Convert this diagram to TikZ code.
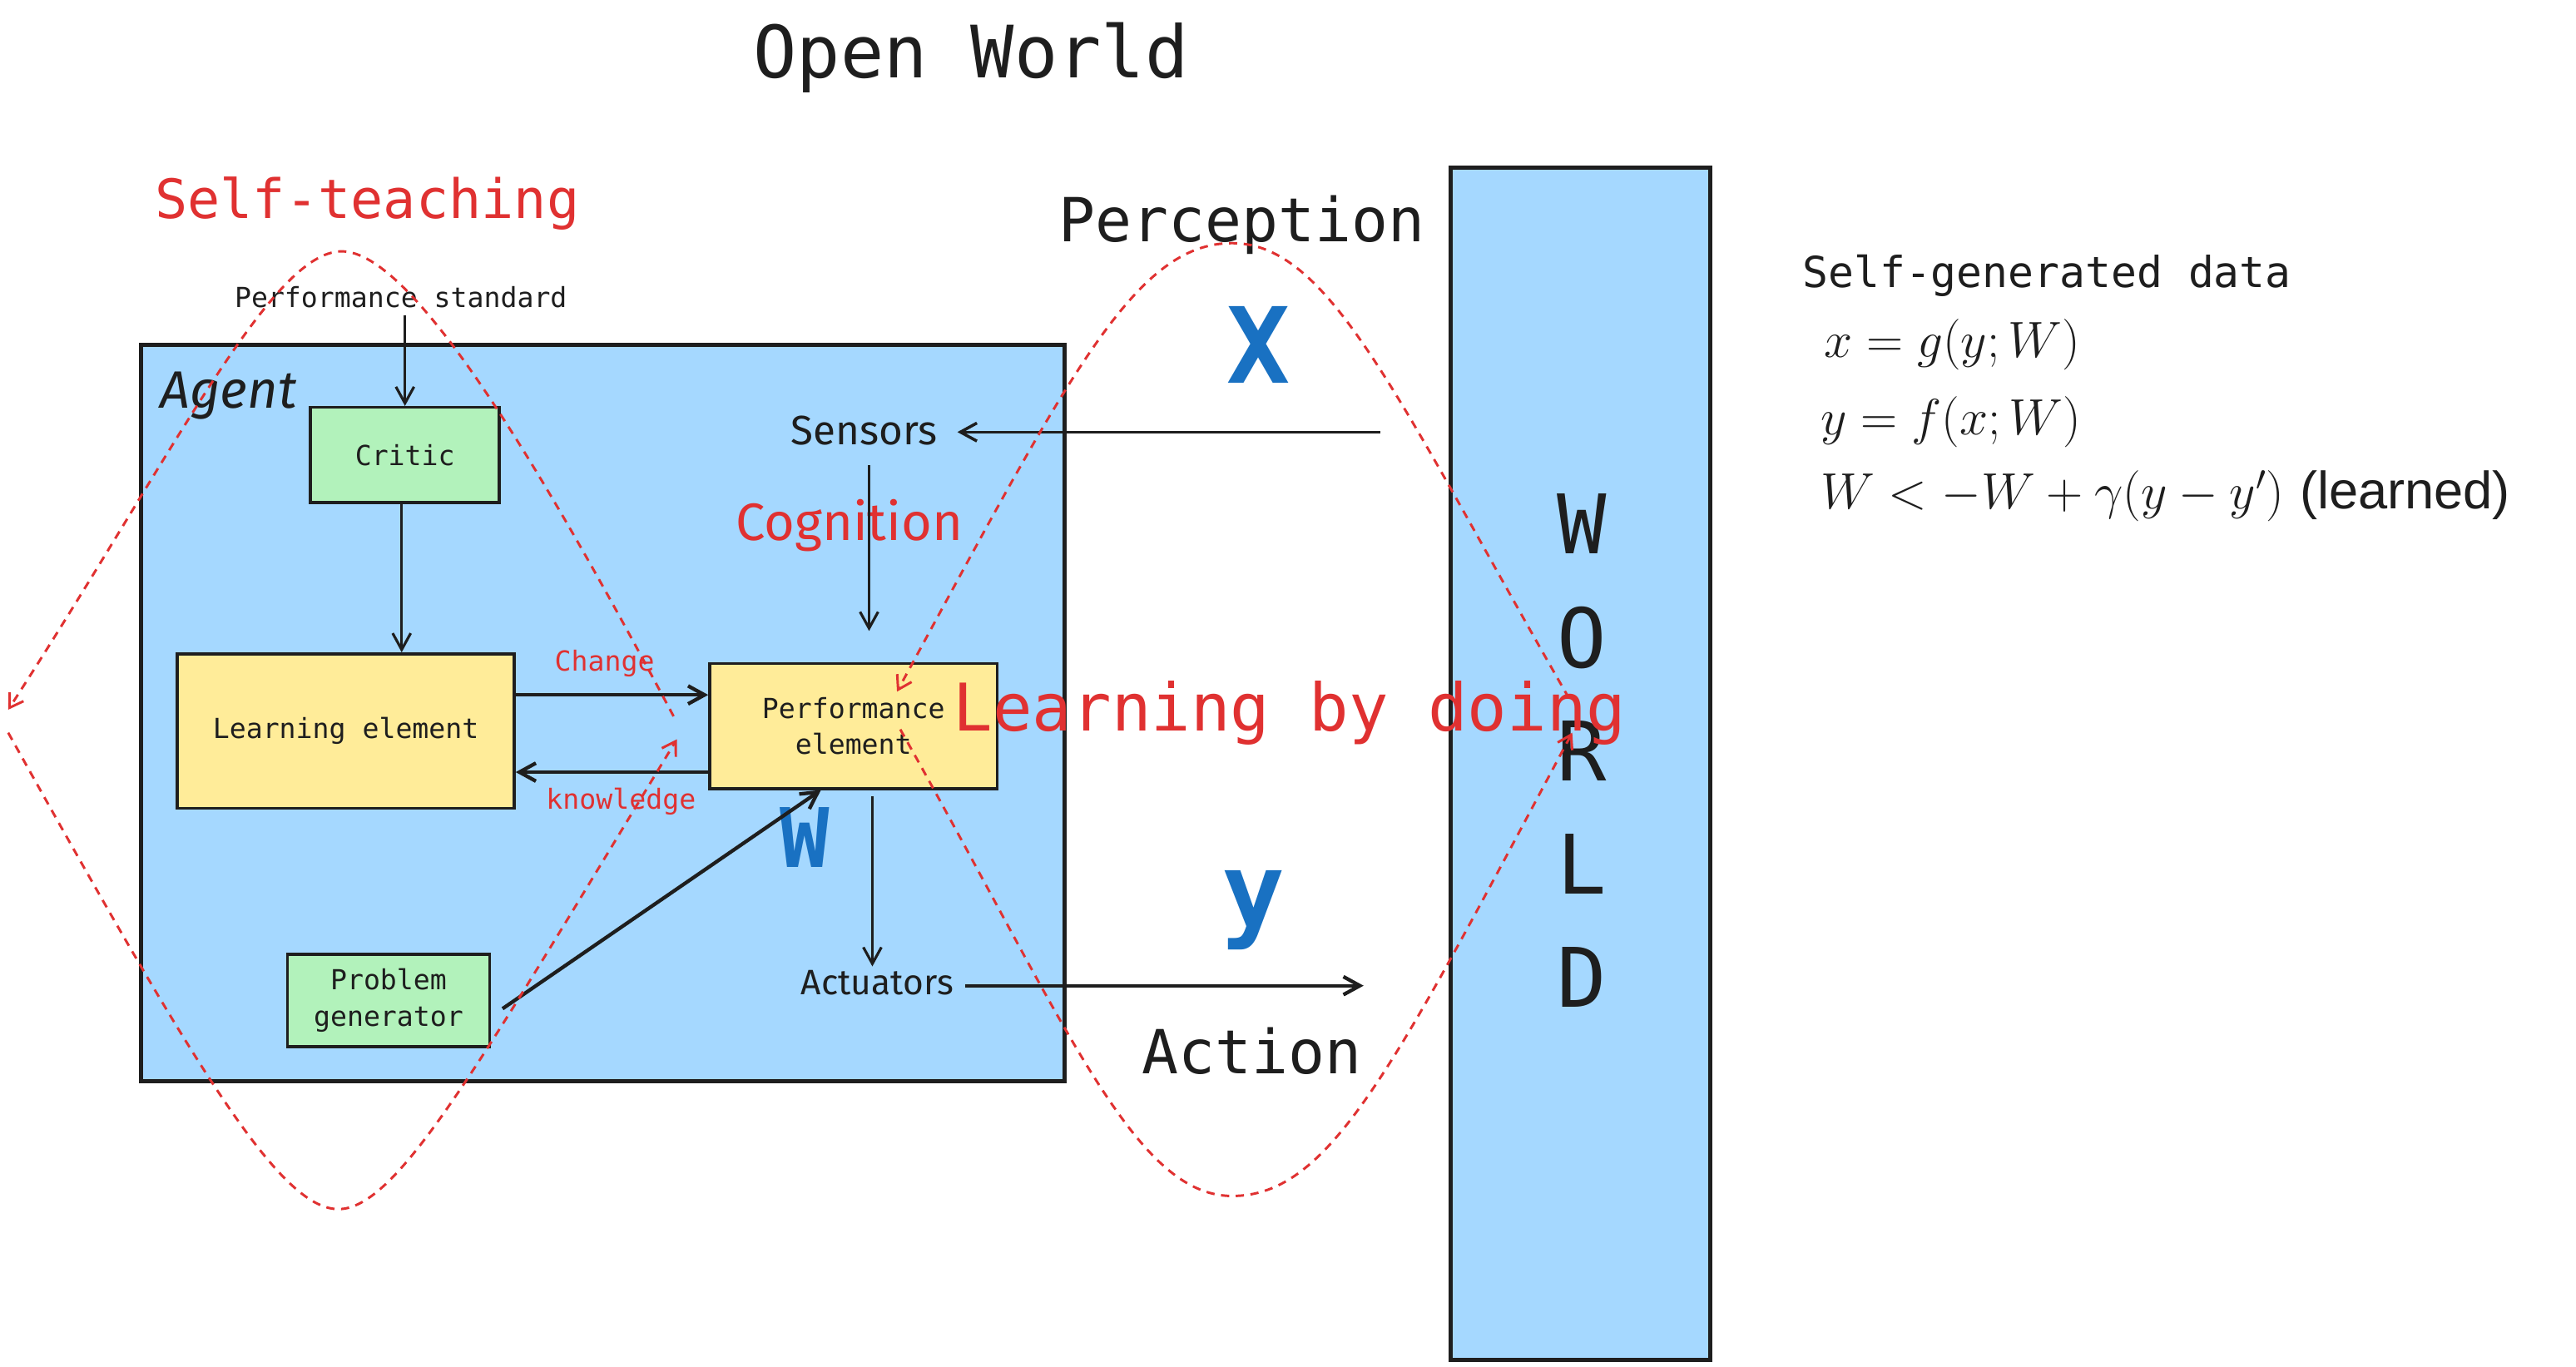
\RequirePackage{fix-cm}
\documentclass[tikz,border=0pt]{standalone}
\usepackage{fontspec}
\usetikzlibrary{arrows.meta}
\newfontfamily\monof{DejaVu Sans Mono}
\newfontfamily\handf{Fira Sans}
\newfontfamily\arialf{Liberation Sans}
\newcommand\fsz[1]{\fontsize{#1}{#1}\selectfont}
\definecolor{ink}{HTML}{1E1E1E}
\definecolor{redc}{HTML}{E03131}
\definecolor{bluec}{HTML}{1971C2}
\definecolor{skyb}{HTML}{A5D8FF}
\definecolor{greenc}{HTML}{B2F2BB}
\definecolor{yellowc}{HTML}{FFEC99}
\begin{document}
\begin{tikzpicture}[x=1pt,y=-1pt,
  box/.style={draw=ink,line width=1.8pt,inner sep=0pt},
  bigbox/.style={draw=ink,line width=2.6pt,inner sep=0pt,fill=skyb},
  arr/.style={draw=ink,line width=1.6pt,-{Straight Barb[length=10pt,width=11pt]}},
  loopar/.style={draw=redc,line width=1.5pt,dash pattern=on 5pt off 4pt,-{Straight Barb[length=8pt,width=10pt]}},
  txt/.style={inner sep=0pt,text=ink},
  small/.style={txt,font=\monof\fontsize{16.8}{22}\selectfont,align=center},
  hand/.style={txt,font=\handf}
]
\useasboundingbox[fill=white] (0,0) rectangle (1568,832);

% big boxes
\node[bigbox,minimum width=562pt,minimum height=448pt] (agent) at (367,434) {};
\node[bigbox,minimum width=158pt,minimum height=726pt] (world) at (962,465) {};

% inner boxes
\node[box,fill=greenc,minimum width=115pt,minimum height=58pt,small] (critic) at (246.5,277) {Critic};
\node[box,fill=yellowc,minimum width=205pt,minimum height=94pt,small] (learning) at (210.5,445) {Learning element};
\node[box,fill=yellowc,minimum width=175pt,minimum height=76pt,small] (perf) at (519.5,442) {Performance\\element};
\node[box,fill=greenc,minimum width=123pt,minimum height=56pt,small] (probgen) at (236.5,609) {Problem\\generator};

% texts
\node[txt,font=\monof\fsz{44}] (title) at (591,35) {Open World};
\node[txt,font=\monof\fsz{33},text=redc] (selfteach) at (223.5,124) {Self-teaching};
\node[txt,font=\monof\fsz{37}] (perception) at (756,137) {Perception};
\node[small] (perfstd) at (244,181) {Performance standard};
\node[hand,font=\handf\itshape\fsz{32}] (agentlbl) at (139,241) {Agent};
\node[hand,font=\handf\fsz{25}] (sensors) at (526,262) {Sensors};
\node[hand,font=\handf\fsz{32},text=redc] (cognition) at (517,320) {Cognition};
\node[hand,font=\handf\fsz{21.5}] (actuators) at (534,598) {Actuators};
\node[small,text=redc] (change) at (368,404) {Change};
\node[small,text=redc] (knowledge) at (378,488) {knowledge};
\node[txt,font=\monof\bfseries\fsz{50},text=bluec] (wlbl) at (490,510) {W};
\node[txt,font=\monof\bfseries\fsz{64},text=bluec] (xlbl) at (766,210) {X};
\node[txt,font=\monof\bfseries\fsz{64},text=bluec] (ylbl) at (763,554) {y};
\node[txt,font=\monof\fsz{37}] (action) at (762,640) {Action};

% world letters
\foreach \l/\yy [count=\i] in {W/319,O/388,R/457,L/526,D/595}
  \node[txt,font=\monof\fsz{50}] (wl\i) at (963,\yy) {\l};

% right side text
\node[txt,font=\monof\fsz{26},anchor=west] (sgd) at (1097,168) {Self-generated data};
\node[txt,font=\fsz{31},anchor=west] (eq1) at (1110,210) {$x=g(y;W)$};
\node[txt,font=\fsz{31},anchor=west] (eq2) at (1108,257) {$y=f(x;W)$};
\node[txt,font=\fsz{31},anchor=west] (eq3) at (1108,302) {$W<-W+\gamma(y-y')$ {\arialf\fsz{32}(learned)}};

% arrows
\draw[arr,shorten <=4pt] (perfstd.south -| critic.north) -- (critic.north);
\coordinate (cdown) at ([xshift=-2pt]critic.south);
\draw[arr] (cdown) -- (cdown |- learning.north);
\coordinate (chgS) at ([yshift=22pt]learning.east);
\draw[arr,line width=2.2pt] (chgS) -- (chgS -| perf.west);
\coordinate (knS) at ([yshift=-28pt]perf.west);
\draw[arr,line width=2.2pt] (knS) -- (knS -| learning.east);
\coordinate (xin) at (840,263);
\draw[arr,line width=1.8pt,shorten >=12pt] (xin) -- (xin -| sensors.east);
\coordinate (sdown) at ([xshift=3pt]sensors.south);
\draw[arr,shorten <=12pt,shorten >=19pt] (sdown) -- (sdown |- perf.north);
\coordinate (adown) at ([xshift=-3pt]actuators.north);
\draw[arr,shorten <=4pt,shorten >=2pt] (adown |- perf.south) -- (adown);
\coordinate (yout) at (830,600);
\draw[arr,line width=2.2pt,shorten <=7pt] (yout -| actuators.east) -- (yout);
\draw[arr,line width=2.2pt] ([xshift=7pt,yshift=-5pt]probgen.east) -- (perf.243);

% dashed loops
\coordinate (stA) at (410,436);
\coordinate (stTop) at (208,153);
\coordinate (stB) at (5,432);
\coordinate (stC) at (5,446);
\coordinate (stBot) at (206,736);
\coordinate (stD) at (412,450);
\draw[loopar] (stA) .. controls (328,282) and (251,153) .. (stTop) .. controls (165,153) and (106,276) .. (stB);
\draw[loopar] (stC) .. controls (119,650) and (170,736) .. (stBot) .. controls (242,736) and (291.5,648) .. (stD);

\coordinate (ldA) at (955,425);
\coordinate (ldTop) at (750,148);
\coordinate (ldB) at (546,421);
\coordinate (ldC) at (548,444);
\coordinate (ldBot) at (750,728);
\coordinate (ldD) at (957,446);
\draw[loopar] (ldA) .. controls (851,244) and (810,148) .. (ldTop) .. controls (690,148) and (650,230) .. (ldB);
\draw[loopar] (ldC) .. controls (649,623) and (690,728) .. (ldBot) .. controls (810,728) and (848,650) .. (ldD);

\node[txt,font=\monof\fsz{40},text=redc] (lbd) at (785,434) {Learning by doing};
\end{tikzpicture}
\end{document}
